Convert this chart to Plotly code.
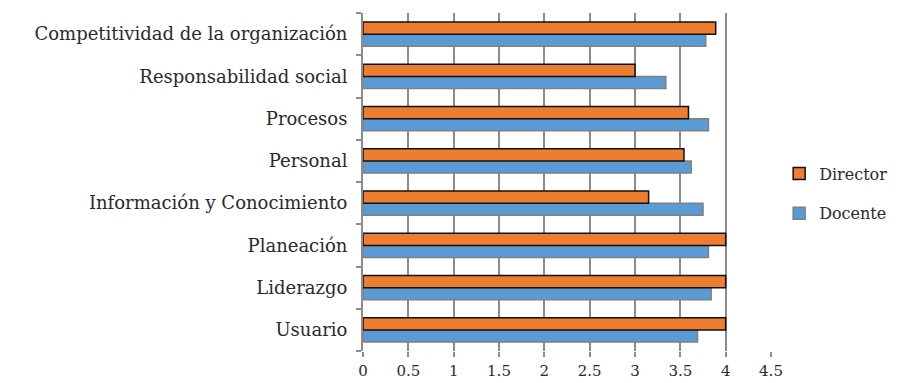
import plotly.graph_objects as go

categories = ["Usuario", "Liderazgo", "Planeación", "Información y Conocimiento",
              "Personal", "Procesos", "Responsabilidad social",
              "Competitividad de la organización"]
director = [4.0, 4.0, 4.0, 3.15, 3.54, 3.59, 3.0, 3.89]
docente = [3.69, 3.84, 3.81, 3.75, 3.62, 3.81, 3.34, 3.78]
x_ticks = [0, 0.5, 1, 1.5, 2, 2.5, 3, 3.5, 4, 4.5]
x_tick_text = ["0", "0.5", "1", "1.5", "2", "2.5", "3", "3.5", "4", "4.5"]

SERIF = "DejaVu Serif"
font = dict(family=SERIF, size=18, color="#2a2a2a")

fig = go.Figure()
fig.add_trace(go.Bar(y=categories, x=docente, name="Docente", orientation="h",
                     legendgroup="b", legendrank=2,
                     marker=dict(color="#5B9BD5", line=dict(color="#808080", width=1.5))))
fig.add_trace(go.Bar(y=categories, x=director, name="Director", orientation="h",
                     legendgroup="a", legendrank=1,
                     marker=dict(color="#ED7D31", line=dict(color="#111111", width=1.5))))

fig.update_layout(
    width=912, height=383,
    margin=dict(l=363, r=141, t=13, b=32, autoexpand=False),
    paper_bgcolor="white", plot_bgcolor="white",
    font=font,
    barmode="group", bargap=0.43, bargroupgap=0.0,
    showlegend=True,
    legend=dict(traceorder="grouped", x=1.02, y=0.466, yanchor="middle", xanchor="left",
                font=dict(family=SERIF, size=16, color="#2a2a2a"),
                itemwidth=30, tracegroupgap=16),
)
fig.update_xaxes(range=[0, 4.5], tickvals=x_ticks, ticktext=x_tick_text,
                 automargin=False,
                 showgrid=True, gridcolor="#8c8c8c", gridwidth=2,
                 showline=False, zeroline=False,
                 ticks="outside", ticklen=5, tickcolor="#8c8c8c", tickwidth=2,
                 ticklabelstandoff=1,
                 tickfont=dict(family=SERIF, size=15))
fig.update_yaxes(categoryorder="array", categoryarray=categories,
                 automargin=False,
                 showline=True, linecolor="#8c8c8c", linewidth=2,
                 ticks="outside", tickson="boundaries", ticklen=5, tickcolor="#8c8c8c", tickwidth=2,
                 ticklabelstandoff=10,
                 showgrid=False, tickfont=dict(family=SERIF, size=18))
fig.write_html("out.html")
